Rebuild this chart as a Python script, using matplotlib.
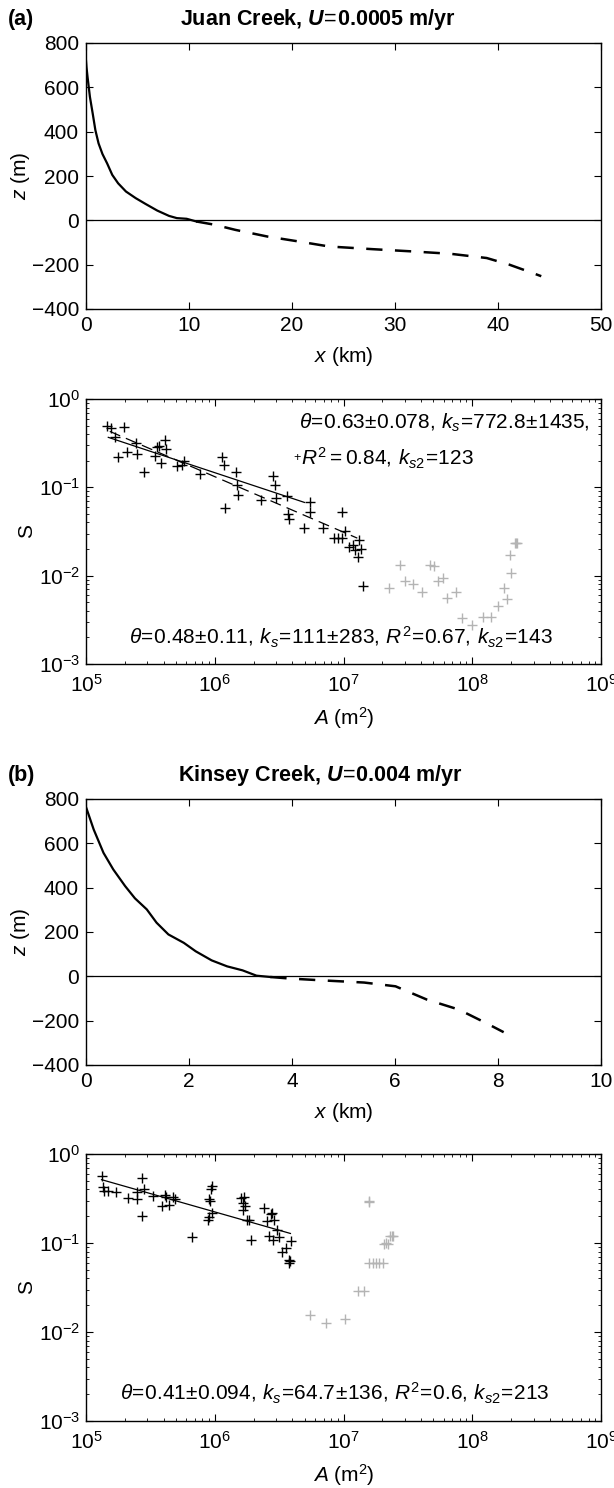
import numpy as np
import matplotlib
matplotlib.use('Agg')
import matplotlib.pyplot as plt

plt.rcParams['font.family'] = ['Liberation Sans', 'DejaVu Sans']
plt.rcParams['mathtext.fontset'] = 'custom'
plt.rcParams['mathtext.rm'] = 'Liberation Sans'
plt.rcParams['mathtext.it'] = 'Liberation Sans:italic'
plt.rcParams['mathtext.bf'] = 'Liberation Sans:bold'
plt.rcParams['mathtext.bfit'] = 'Liberation Sans:italic:bold'
plt.rcParams['axes.linewidth'] = 1.0

# ---------------- data: (a) Juan Creek ----------------
xa_solid = [0, 0.05, 0.15, 0.38, 0.65, 0.91, 1.22, 1.6, 2.05, 2.55, 3.12, 3.88, 4.83, 5.78,
            6.92, 8.06, 8.82, 9.77, 10.7]
za_solid = [720, 690, 647, 557, 482, 407, 347, 299, 257, 205, 167, 130, 100, 74,
            44, 20, 10, 7, -5]
xa_dash = [10.7, 12.5, 14.5, 17.6, 20.6, 23.6, 27.8, 31.6, 35.4, 38.9, 41.1, 43.2, 44.2]
za_dash = [-5, -20, -43, -73, -95, -118, -130, -140, -151, -170, -200, -235, -252]

Aa_black = [1.46e5, 1.57e5, 1.97e5, 1.68e5, 1.78e5, 2.07e5, 2.49e5, 2.44e5, 2.84e5, 3.46e5,
            3.58e5, 3.71e5, 3.84e5, 4.12e5, 4.18e5, 5.08e5, 5.53e5, 5.77e5, 7.64e5, 1.14e6,
            1.18e6, 1.20e6, 1.46e6, 1.49e6, 1.51e6, 2.30e6, 2.83e6, 2.93e6, 2.97e6, 3.62e6,
            3.70e6, 3.75e6, 4.97e6, 5.51e6, 5.51e6, 6.90e6, 8.39e6, 8.99e6, 9.66e6, 9.80e6,
            1.02e7, 1.11e7, 1.19e7, 1.23e7, 1.32e7, 1.37e7, 1.30e7, 1.42e7]
Sa_black = [0.49, 0.47, 0.48, 0.37, 0.22, 0.25, 0.24, 0.32, 0.149, 0.228,
            0.286, 0.29, 0.188, 0.34, 0.27, 0.173, 0.177, 0.20, 0.143, 0.22,
            0.177, 0.058, 0.149, 0.107, 0.081, 0.072, 0.136, 0.107, 0.075, 0.079,
            0.050, 0.044, 0.035, 0.069, 0.052, 0.035, 0.027, 0.027, 0.027, 0.052,
            0.032, 0.021, 0.022, 0.0196, 0.0255, 0.020, 0.0162, 0.0077]
Aa_gray = [2.24e7, 2.76e7, 3.03e7, 3.48e7, 4.06e7, 4.68e7, 5.01e7, 5.38e7, 5.97e7, 6.41e7,
           7.48e7, 8.36e7, 9.95e7, 1.21e8, 1.39e8, 1.59e8, 1.77e8, 1.86e8, 2.01e8, 1.97e8,
           2.14e8, 2.18e8, 2.22e8]
Sa_gray = [0.0072, 0.0132, 0.0088, 0.0080, 0.0066, 0.0132, 0.0127, 0.0086, 0.0094, 0.00565,
           0.0066, 0.0033, 0.0028, 0.0034, 0.0034, 0.0045, 0.0072, 0.0055, 0.0107, 0.0172,
           0.0233, 0.0236, 0.0233]
fit_a1_A = [1.49e5, 4.97e6]   # theta = 0.48
fit_a1_S = [0.368, 0.0675]
fit_a2_A = [1.53e5, 1.28e7]   # theta = 0.63
fit_a2_S = [0.43, 0.0266]

# ---------------- data: (b) Kinsey Creek ----------------
xb_solid = [0, 0.15, 0.34, 0.53, 0.76, 0.95, 1.18, 1.37, 1.6, 1.9, 2.13, 2.44, 2.74, 3.04, 3.31, 3.58]
zb_solid = [764, 662, 557, 482, 407, 352, 302, 242, 189, 151, 113, 72, 45, 27, 3, -3]
xb_dash = [3.58, 3.96, 4.65, 5.4, 6.01, 6.62, 7.24, 7.77, 8.11]
zb_dash = [-3, -10, -19, -28, -45, -105, -150, -211, -252]

Ab_black = [1.32e5, 1.36e5, 1.39e5, 1.49e5, 1.71e5, 2.11e5, 2.48e5, 2.51e5, 2.74e5, 2.70e5,
            2.84e5, 3.33e5, 3.92e5, 4.11e5, 4.17e5, 4.42e5, 4.73e5, 4.90e5, 6.71e5, 8.89e5,
            9.08e5, 9.20e5, 9.40e5, 9.53e5, 9.53e5, 9.08e5, 1.61e6, 1.65e6, 1.67e6, 1.69e6,
            1.73e6, 1.79e6, 1.85e6, 1.92e6, 2.40e6, 2.54e6, 2.63e6, 2.73e6, 2.79e6, 2.82e6,
            2.88e6, 3.03e6, 3.18e6, 3.32e6, 3.56e6, 3.74e6, 3.79e6, 3.87e6, 3.93e6]
Sb_black = [0.57, 0.43, 0.38, 0.38, 0.37, 0.32, 0.31, 0.37, 0.54, 0.20,
            0.40, 0.34, 0.26, 0.35, 0.33, 0.27, 0.325, 0.31, 0.116, 0.18,
            0.31, 0.30, 0.40, 0.44, 0.217, 0.195, 0.32, 0.28, 0.237, 0.33,
            0.26, 0.182, 0.18, 0.107, 0.25, 0.175, 0.119, 0.21, 0.22, 0.109,
            0.18, 0.141, 0.116, 0.080, 0.088, 0.059, 0.065, 0.062, 0.104]
Ab_gray = [5.5e6, 7.28e6, 1.02e7, 1.29e7, 1.44e7, 1.57e7, 1.69e7, 1.78e7, 1.88e7, 2.01e7,
           1.57e7, 1.58e7, 2.08e7, 2.15e7, 2.20e7, 2.31e7, 2.39e7, 2.44e7]
Sb_gray = [0.0156, 0.0126, 0.0139, 0.029, 0.029, 0.0594, 0.0594, 0.0594, 0.0594, 0.0594,
           0.29, 0.30, 0.098, 0.099, 0.098, 0.119, 0.121, 0.119]
fit_b_A = [1.32e5, 3.87e6]    # theta = 0.41
fit_b_S = [0.515, 0.128]

gray = '#b4b4b4'
W, H = 614, 1488
fs = 15
fig = plt.figure(figsize=(W / 100, H / 100), dpi=100)


def px_axes(top, bottom, left=86, right=601):
    return fig.add_axes([left / W, 1 - bottom / H, (right - left) / W, (bottom - top) / H])


def profile(ax, xs, zs, xd, zd, xmax, xstep):
    ax.axhline(0, color='k', lw=0.9)
    ax.plot(xs, zs, color='k', lw=1.6)
    ax.plot(xd, zd, color='k', lw=1.8, dashes=(6.5, 5.0))
    ax.set_xlim(0, xmax)
    ax.set_ylim(-400, 800)
    ax.set_xticks(np.arange(0, xmax + 0.1, xstep))
    ax.set_yticks(np.arange(-400, 801, 200))
    ax.tick_params(direction='in', top=True, right=True, length=5, width=0.8, labelsize=fs, pad=5)
    ax.set_xlabel(r'$x$ (km)', fontsize=fs, labelpad=7)
    ax.set_ylabel(r'$z$ (m)', fontsize=fs, labelpad=0)


def slope_area(ax):
    ax.set_xscale('log')
    ax.set_yscale('log')
    ax.set_xlim(1e5, 1e9)
    ax.set_ylim(1e-3, 1e0)
    ax.tick_params(which='both', direction='in', top=True, right=True, labelsize=fs)
    ax.tick_params(axis='x', pad=7)
    ax.tick_params(axis='y', pad=4)
    ax.tick_params(which='major', length=5, width=0.8)
    ax.tick_params(which='minor', length=2.5, width=0.6)
    ax.set_xlabel(r'$A$ (m$^2$)', fontsize=fs, labelpad=7)
    ax.set_ylabel('S', fontsize=fs, labelpad=2)


# (a) profile
ax1 = px_axes(43, 309)
profile(ax1, xa_solid, za_solid, xa_dash, za_dash, 50, 10)

# (a) slope-area
ax2 = px_axes(399, 664)
slope_area(ax2)
ax2.plot(Aa_gray, Sa_gray, '+', color=gray, ms=6.5, mew=1.0)
ax2.plot(Aa_black, Sa_black, '+', color='k', ms=6.5, mew=1.0)
ax2.plot(fit_a1_A, fit_a1_S, color='k', lw=0.9)
ax2.plot(fit_a2_A, fit_a2_S, color='k', lw=0.9, dashes=(9, 5))
ax2.text(590 / W, 1 - 423 / H, r'$\theta\!=\!0.63\!\pm\!0.078,\,k_s\!=\!772.8\!\pm\!1435,$',
         transform=fig.transFigure, ha='right', va='center', fontsize=fs)
ax2.text(293 / W, 1 - 458 / H, '+', transform=fig.transFigure, ha='left', va='center', fontsize=9)
ax2.text(301 / W, 1 - 458 / H, r'$R^2 = 0.84,\,k_{s2}\!=\!123$',
         transform=fig.transFigure, ha='left', va='center', fontsize=fs)
ax2.text(341 / W, 1 - 637 / H, r'$\theta\!=\!0.48\!\pm\!0.11,\,k_s\!=\!111\!\pm\!283,\,R^2\!=\!0.67,\,k_{s2}\!=\!143$',
         transform=fig.transFigure, ha='center', va='center', fontsize=fs)

# (b) profile
ax3 = px_axes(799, 1065)
profile(ax3, xb_solid, zb_solid, xb_dash, zb_dash, 10, 2)

# (b) slope-area
ax4 = px_axes(1154, 1421)
slope_area(ax4)
ax4.plot(Ab_gray, Sb_gray, '+', color=gray, ms=6.5, mew=1.0)
ax4.plot(Ab_black, Sb_black, '+', color='k', ms=6.5, mew=1.0)
ax4.plot(fit_b_A, fit_b_S, color='k', lw=0.9)
ax4.text(335 / W, 1 - 1393 / H, r'$\theta\!=\!0.41\!\pm\!0.094,\,k_s\!=\!64.7\!\pm\!136,\,R^2\!=\!0.6,\,k_{s2}\!=\!213$',
         transform=fig.transFigure, ha='center', va='center', fontsize=fs)

# panel titles
fig.text(8 / W, 1 - 20 / H, '(a)', fontsize=15.5, fontweight='bold', ha='left', va='center')
fig.text(318 / W, 1 - 20 / H, r'Juan Creek, $\mathbfit{U}\!=\!\mathbf{0.0005}$ m/yr',
         fontsize=15.5, fontweight='bold', ha='center', va='center')
fig.text(8 / W, 1 - 775 / H, '(b)', fontsize=15.5, fontweight='bold', ha='left', va='center')
fig.text(320 / W, 1 - 775 / H, r'Kinsey Creek, $\mathbfit{U}\!=\!\mathbf{0.004}$ m/yr',
         fontsize=15.5, fontweight='bold', ha='center', va='center')

fig.savefig('out.png', dpi=100)
